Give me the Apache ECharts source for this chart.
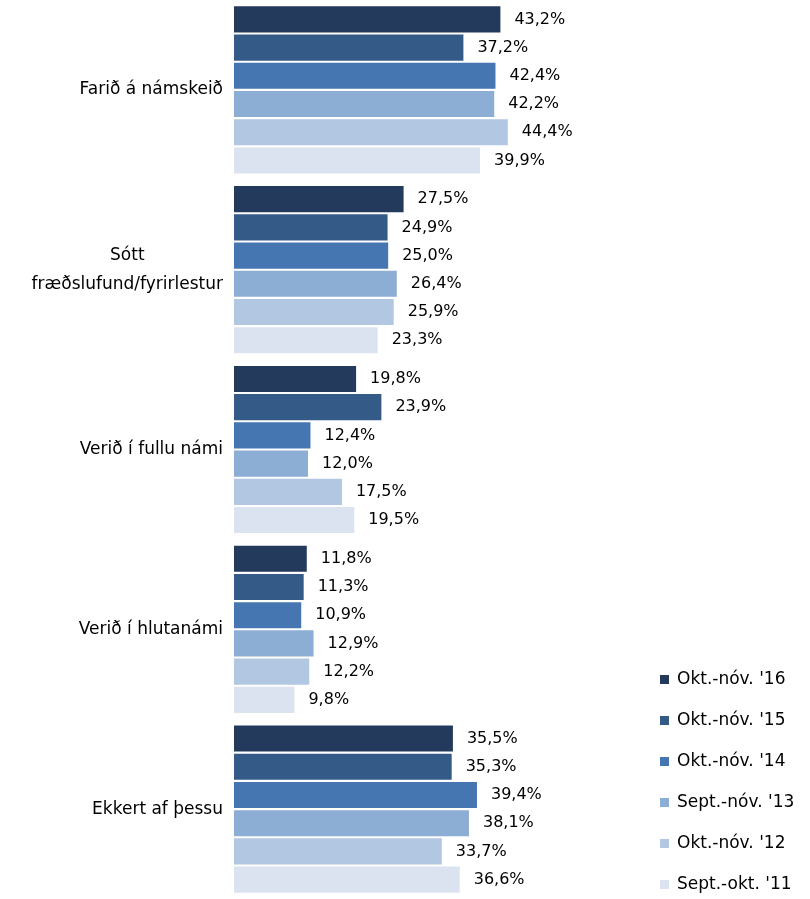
<!DOCTYPE html>
<html>
<head>
    <meta charset="utf-8">
    <title>ECharts</title>
    <script src="https://cdn.jsdelivr.net/npm/echarts@6/dist/echarts.min.js"></script>
</head>
<body style="margin:0;">
    <div id="main" style="width: 810px;height: 899px;"></div>
    <script type="text/javascript">
        // flokkar og raðir
        var categories = ['Farið á námskeið', 'Sótt fræðslufund/fyrirlestur', 'Verið í fullu námi', 'Verið í hlutanámi', 'Ekkert af þessu'];
        var seriesNames = ["Okt.-nóv. '16", "Okt.-nóv. '15", "Okt.-nóv. '14", "Sept.-nóv. '13", "Okt.-nóv. '12", "Sept.-okt. '11"];
        var s16 = [43.2, 27.5, 19.8, 11.8, 35.5];
        var s15 = [37.2, 24.9, 23.9, 11.3, 35.3];
        var s14 = [42.4, 25.0, 12.4, 10.9, 39.4];
        var s13 = [42.2, 26.4, 12.0, 12.9, 38.1];
        var s12 = [44.4, 25.9, 17.5, 12.2, 33.7];
        var s11 = [39.9, 23.3, 19.5, 9.8, 36.6];
        var allData = [s16, s15, s14, s13, s12, s11];
        var colors = ['#243a5c', '#345a88', '#4576b2', '#8cadd4', '#b2c7e2', '#dae3ef'];

        var myChart = echarts.init(document.getElementById('main'));

        var series = [];
        for (var i = 0; i < allData.length; i++) {
            series.push({
                name: seriesNames[i],
                type: 'bar',
                data: allData[i],
                barGap: '8%',
                barCategoryGap: '7%',
                itemStyle: { color: colors[i] },
                label: {
                    show: true,
                    position: 'right',
                    distance: 14,
                    color: '#000',
                    fontFamily: 'DejaVu Sans',
                    fontSize: 16,
                    formatter: function (p) {
                        return p.value.toFixed(1).replace('.', ',') + '%';
                    }
                }
            });
        }

        var option = {
            animation: false,
            color: colors,
            grid: { left: 234, right: 206, top: 0, bottom: 0 },
            legend: {
                orient: 'vertical',
                left: 660,
                top: 671,
                padding: 0,
                itemWidth: 9,
                itemHeight: 9,
                itemGap: 24,
                icon: 'rect',
                textStyle: { fontFamily: 'DejaVu Sans', fontSize: 17, color: '#000', padding: [0, 0, 0, 3] },
                data: seriesNames
            },
            xAxis: {
                type: 'value',
                min: 0,
                max: 60,
                show: false
            },
            yAxis: {
                type: 'category',
                inverse: true,
                data: categories,
                axisLine: { show: false },
                axisTick: { show: false },
                axisLabel: {
                    margin: 11,
                    color: '#000',
                    fontFamily: 'DejaVu Sans',
                    fontSize: 17,
                    lineHeight: 29,
                    formatter: function (v) {
                        if (v === 'Sótt fræðslufund/fyrirlestur') {
                            return '{c|Sótt}\n{c|fræðslufund/fyrirlestur}';
                        }
                        return v;
                    },
                    rich: {
                        c: { align: 'center', fontFamily: 'DejaVu Sans', fontSize: 17, lineHeight: 29, color: '#000' }
                    }
                }
            },
            series: series
        };

        myChart.setOption(option);
    </script>
</body>
</html>
